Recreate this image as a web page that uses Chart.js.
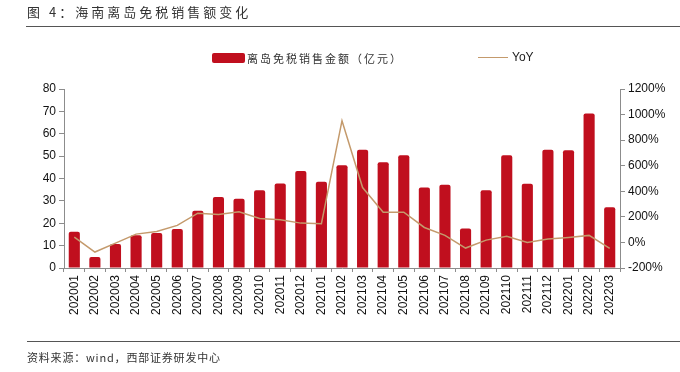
<!DOCTYPE html>
<html>
<head>
<meta charset="utf-8">
<script src="https://cdn.jsdelivr.net/npm/chart.js@4"></script>
<style>
  body { margin: 0; background: #fff; }
  #wrap { position: relative; width: 680px; height: 372px; overflow: hidden; }
  #chart { position: absolute; left: 0; top: 0; }
  .cjk { font-family: "Noto Sans CJK SC", sans-serif; color: #333; position: absolute; white-space: nowrap; }
  #title { left: 27px; top: 3px; font-size: 13px; letter-spacing: 3px; line-height: 18px; }
  #rule1 { position: absolute; left: 26px; top: 26px; width: 654px; height: 0; border-top: 1.5px solid #555; }
  #rule2 { position: absolute; left: 27px; top: 341px; width: 653px; height: 0; border-top: 1.5px solid #555; }
  #source { left: 27px; top: 349px; font-size: 11px; line-height: 16px; letter-spacing: 0.8px; }
  #legBox { position: absolute; left: 212px; top: 53px; width: 33px; height: 10px; background: #C00F1E; border-radius: 2px; }
  #legText { left: 247px; top: 50px; font-size: 11px; line-height: 16px; letter-spacing: 2px; }
  #legLine { position: absolute; left: 478px; top: 57px; width: 30px; height: 0; border-top: 1.5px solid #C49A6C; }
  #legYoy { position: absolute; left: 512px; top: 49px; font: 12px "Liberation Sans", Arial, sans-serif; color: #222; line-height: 16px; }
</style>
</head>
<body>
<div id="wrap">
  <canvas id="chart" width="680" height="372"></canvas>
  <div id="title" class="cjk">图 4：海南离岛免税销售额变化</div>
  <div id="rule1"></div>
  <div id="legBox"></div>
  <div id="legText" class="cjk">离岛免税销售金额（亿元）</div>
  <div id="legLine"></div>
  <div id="legYoy">YoY</div>
  <div id="rule2"></div>
  <div id="source" class="cjk">资料来源：wind，西部证券研发中心</div>
</div>
<script>
// months
const months = ['202001', '202002', '202003', '202004', '202005', '202006', '202007', '202008', '202009',
    '202010', '202011', '202012', '202101', '202102', '202103', '202104', '202105', '202106', '202107',
    '202108', '202109', '202110', '202111', '202112', '202201', '202202', '202203'];

// sales, 100 million yuan
const sales = [16.2, 4.9, 10.7, 14.6, 15.6, 17.4, 25.6, 31.7, 30.9, 34.8, 37.8, 43.3, 38.5,
    45.9, 52.9, 47.3, 50.4, 36.0, 37.2, 17.7, 34.8, 50.4, 37.6, 52.9, 52.6, 69.1, 27.2];

// year on year, %
const yoy = [42, -75, -5, 65, 86, 133, 229, 219, 239, 187, 177, 151, 146,
    952, 429, 237, 237, 117, 55, -44, 18, 49, 0, 26, 39, 55, -47];

const salesTicks = { min: 0, max: 80, step: 10 };
const yoyTicks = { min: -200, max: 1200, step: 200 };

const tickFont = { family: '"Liberation Sans", Arial, sans-serif', size: 12 };
const axisColor = '#8c8c8c';

const ctx = document.getElementById('chart').getContext('2d');
new Chart(ctx, {
    data: {
        labels: months,
        datasets: [
            {
                type: 'line',
                label: 'YoY',
                data: yoy,
                yAxisID: 'y1',
                borderColor: '#C49A6C',
                borderWidth: 1.5,
                pointRadius: 0,
                tension: 0,
                order: 0
            },
            {
                type: 'bar',
                label: '离岛免税销售金额（亿元）',
                data: sales,
                yAxisID: 'y',
                backgroundColor: '#C00F1E',
                borderRadius: 2,
                borderSkipped: 'bottom',
                categoryPercentage: 1,
                barPercentage: 0.54,
                order: 1
            }
        ]
    },
    options: {
        responsive: false,
        animation: false,
        layout: { padding: { top: 89, left: 0, right: 0, bottom: 0 } },
        plugins: { legend: { display: false }, tooltip: { enabled: false } },
        scales: {
            x: {
                offset: true,
                grid: { offset: true, drawOnChartArea: false, drawTicks: true, tickLength: 4, color: axisColor },
                border: { color: axisColor, width: 1 },
                ticks: { font: tickFont, color: '#111', minRotation: 90, maxRotation: 90, padding: 3, autoSkip: false },
                afterFit: scale => { scale.height = 104; }
            },
            y: {
                position: 'left',
                min: salesTicks.min,
                max: salesTicks.max,
                ticks: { stepSize: salesTicks.step, font: tickFont, color: '#111', padding: 3 },
                grid: { drawOnChartArea: false, tickLength: 5, color: axisColor },
                border: { color: axisColor, width: 1 },
                afterFit: scale => { scale.width = 64; }
            },
            y1: {
                position: 'right',
                min: yoyTicks.min,
                max: yoyTicks.max,
                ticks: { stepSize: yoyTicks.step, font: tickFont, color: '#111', padding: 3,
                    callback: v => v + '%' },
                grid: { drawOnChartArea: false, tickLength: 5, color: axisColor },
                border: { color: axisColor, width: 1 },
                afterFit: scale => { scale.width = 60; }
            }
        }
    }
});
</script>
</body>
</html>
